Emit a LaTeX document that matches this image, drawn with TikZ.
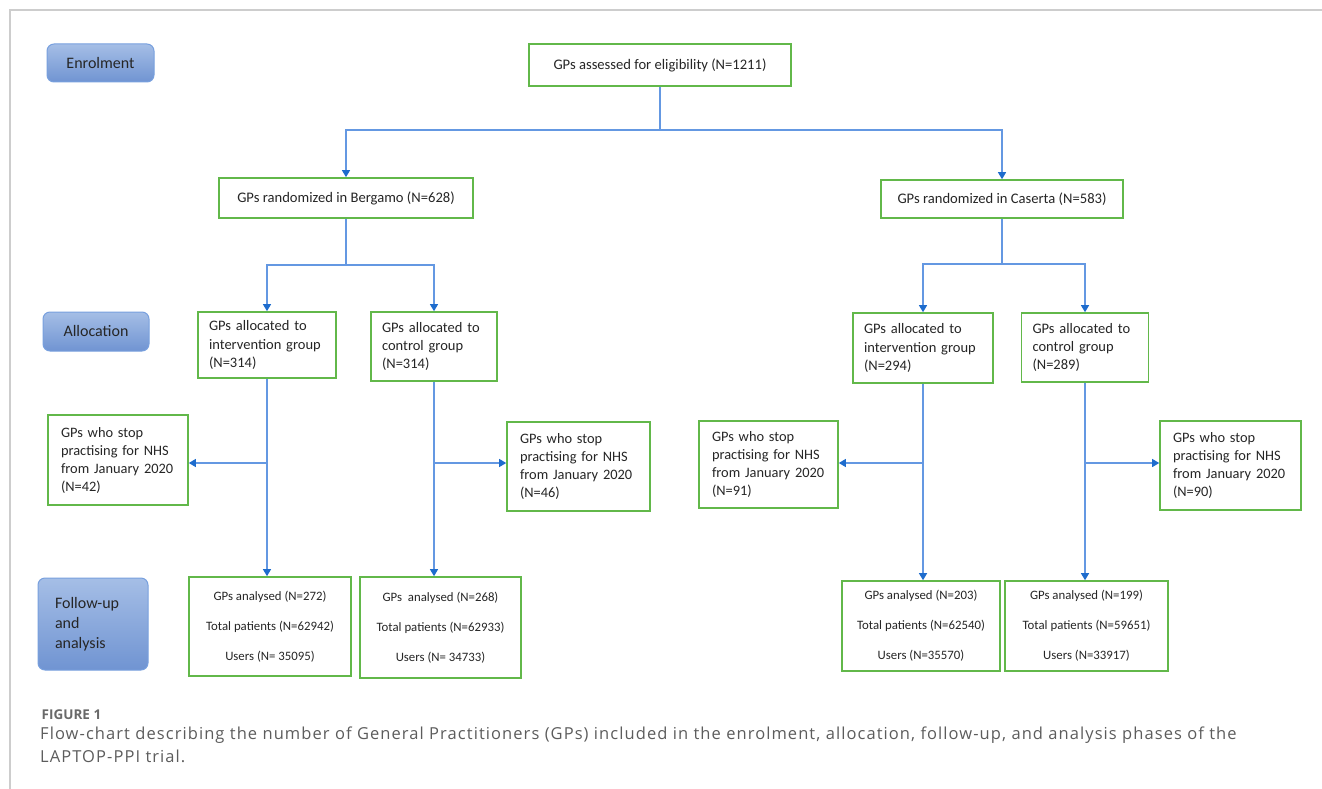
\documentclass[tikz,border=0pt]{standalone}
\usepackage{fontspec}
\setmainfont{Carlito}
\newfontfamily\capfont[LetterSpace=6.5]{Open Sans}
\newfontfamily\figfont{Open Sans}
\usetikzlibrary{arrows.meta}
\definecolor{boxgreen}{RGB}{98,184,74}
\definecolor{linkblue}{RGB}{100,152,226}
\definecolor{tipblue}{RGB}{30,108,205}
\definecolor{phasetop}{RGB}{165,190,230}
\definecolor{phasebot}{RGB}{112,148,210}
\definecolor{phaseline}{RGB}{120,160,222}
\definecolor{framegray}{RGB}{205,205,205}
\definecolor{capgray}{RGB}{92,92,92}
\definecolor{figgray}{RGB}{105,105,105}
\tikzset{
    phase/.style={draw=phaseline, line width=1pt, rounded corners=7pt, top color=phasetop, bottom color=phasebot, text=black!85, font=\fontsize{16}{20}\selectfont},
    gpbox/.style={draw=boxgreen, line width=1.6pt, fill=white, text=black!85, inner sep=0pt, font=\fontsize{14.6}{19.5}\selectfont},
    allocbox/.style={gpbox, align=left, inner xsep=11pt, font=\fontsize{14.5}{18.3}\selectfont},
    stopbox/.style={gpbox, align=left, inner xsep=13pt, font=\fontsize{14.4}{18}\selectfont},
    anabox/.style={gpbox, align=center, font=\fontsize{12.8}{30}\selectfont},
    link/.style={draw=linkblue, line width=1.2pt},
    arr/.style={link, -{Triangle[width=8pt,length=7pt,color=tipblue]}}
}
\begin{document}
\begin{tikzpicture}[x=1pt,y=-1pt]
    \useasboundingbox (0,0) rectangle (1322,789);
    \draw[framegray, line width=1.2pt] (1322,10) -- (10,10) -- (10,789);

    \node[phase, minimum width=107pt, minimum height=38pt] (enrol) at (100.5,63) {Enrolment};
    \node[phase, minimum width=106pt, minimum height=39pt] (alloc) at (96,331.5) {Allocation};
    \node[phase, minimum width=110pt, minimum height=92pt, align=left, text width=76pt, inner xsep=17pt] (follow) at (93,624) {Follow-up\\and\\analysis};

    \node[gpbox, minimum width=262pt, minimum height=42pt] (assess) at (660,65) {GPs assessed for eligibility (N=1211)};
    \node[gpbox, minimum width=254pt, minimum height=40pt] (berg) at (346,198) {GPs randomized in Bergamo (N=628)};
    \node[gpbox, minimum width=242pt, minimum height=38pt] (cas) at (1002,199) {GPs randomized in Caserta (N=583)};

    \node[allocbox, text width=116pt, minimum height=66pt] (bi) at (267,345) {GPs allocated to\\intervention group\\(N=314)};
    \node[allocbox, text width=104pt, minimum height=69pt] (bc) at (434,346.5) {GPs allocated to\\control group\\(N=314)};
    \node[allocbox, text width=118pt, minimum height=70pt] (ci) at (923,348) {GPs allocated to\\intervention group\\(N=294)};
    \node[allocbox, text width=105pt, minimum height=69pt] (cc) at (1085,347.5) {GPs allocated to\\control group\\(N=289)};

    \node[stopbox, text width=114pt, minimum height=90pt] (sbi) at (118,460) {GPs who stop\\practising for NHS\\from January 2020\\(N=42)};
    \node[stopbox, text width=117pt, minimum height=89pt] (sbc) at (578.5,466.5) {GPs who stop\\practising for NHS\\from January 2020\\(N=46)};
    \node[stopbox, text width=113pt, minimum height=87pt] (sci) at (768.5,464.5) {GPs who stop\\practising for NHS\\from January 2020\\(N=91)};
    \node[stopbox, text width=115pt, minimum height=89pt] (scc) at (1230.5,465.5) {GPs who stop\\practising for NHS\\from January 2020\\(N=90)};

    \node[anabox, minimum width=162pt, minimum height=99pt] (abi) at (270,626.5) {GPs analysed (N=272)\\Total patients (N=62942)\\Users (N= 35095)};
    \node[anabox, minimum width=161pt, minimum height=101pt] (abc) at (440.5,627.5) {GPs\ \ analysed (N=268)\\Total patients (N=62933)\\Users (N= 34733)};
    \node[anabox, minimum width=158pt, minimum height=90pt] (aci) at (921,626) {GPs analysed (N=203)\\Total patients (N=62540)\\Users (N=35570)};
    \node[anabox, minimum width=163pt, minimum height=90pt] (acc) at (1086.5,626) {GPs analysed (N=199)\\Total patients (N=59651)\\Users (N=33917)};

    \coordinate (top) at (660,130);
    \coordinate (bj) at (346,265);
    \coordinate (cj) at (1002,264);
    \draw[link] (assess.south) -- (top);
    \draw[arr] (top) -| (berg.north);
    \draw[arr] (top) -| (cas.north);
    \draw[link] (berg.south) -- (bj);
    \draw[link] (cas.south) -- (cj);
    \foreach \j/\a in {bj/bi, bj/bc, cj/ci, cj/cc}
        \draw[arr] (\j) -| (\a.north);
    \foreach \a/\b in {bi/abi, bc/abc, ci/aci, cc/acc}
        \draw[arr] (\a.south) -- (\a.south |- \b.north);
    \foreach \a/\s/\e in {bi/sbi/east, bc/sbc/west, ci/sci/east, cc/scc/west}
        \draw[arr] (\a.south |- 0,463) -- (\s.\e |- 0,463);

    \node[anchor=west, inner sep=0pt, text=figgray, font=\figfont\fontsize{13.5}{15}\selectfont\bfseries] (fig) at (41.5,715) {FIGURE 1};
    \node[anchor=north west, inner sep=0pt, align=left, text=capgray, font=\capfont\fontsize{16.5}{22.5}\selectfont] (cap) at (40,727) {Flow-chart describing the number of General Practitioners (GPs) included in the enrolment, allocation, follow-up, and analysis phases of the\\LAPTOP-PPI trial.};
\end{tikzpicture}
\end{document}
